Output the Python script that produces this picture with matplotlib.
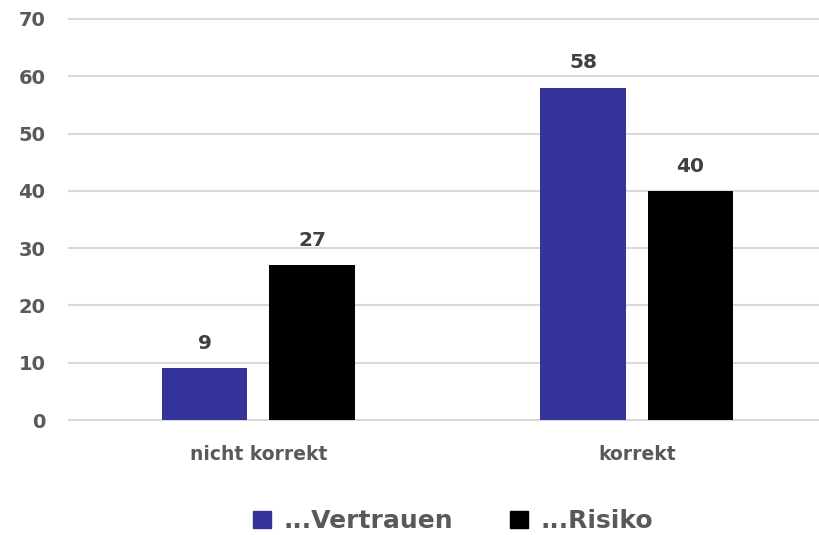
import numpy as np
import matplotlib
matplotlib.use('Agg')
from matplotlib import pyplot as plt
from matplotlib.patches import Patch

categories = ['nicht korrekt', 'korrekt']
vertrauen = [9, 58]
risiko = [27, 40]
series_names = ['...Vertrauen', '...Risiko']
yticks = [0, 10, 20, 30, 40, 50, 60, 70]

BLUE = '#333399'
BLACK = '#000000'
TXT = '#595959'

plt.rcParams['font.family'] = ['DejaVu Sans']
plt.rcParams['font.weight'] = 'bold'

fig = plt.figure(figsize=(8.19, 5.35), dpi=100)
ax = fig.add_axes([69/819, 115/535, 757/819, 401/535])

x = np.arange(len(categories))
w = 0.225
off = 0.142
b1 = ax.bar(x - off, vertrauen, w, color=BLUE, zorder=3)
b2 = ax.bar(x + off, risiko, w, color=BLACK, zorder=3)

# Werte über den Balken
for bars in (b1, b2):
    for r in bars:
        ax.annotate(f'{r.get_height():g}', (r.get_x() + r.get_width()/2, r.get_height()),
                    xytext=(0, 11), textcoords='offset points', ha='center', va='bottom',
                    fontsize=14.5, fontweight='bold', color='#404040')

ax.set_xlim(-0.5, 1.5)
ax.set_ylim(0, 70)
ax.set_yticks(yticks)
ax.set_xticks(x)
ax.set_xticklabels(categories)
ax.tick_params(axis='y', length=0, pad=17, labelsize=14, labelcolor=TXT)
ax.tick_params(axis='x', length=0, pad=18, labelsize=13.5, labelcolor=TXT)
for lab in ax.get_xticklabels() + ax.get_yticklabels():
    lab.set_fontweight('bold')
ax.grid(axis='y', color='#d9d9d9', linewidth=1.5, zorder=0)
for gl in ax.get_ygridlines():
    gl.set_clip_on(False)
ax.set_axisbelow(True)
for s in ax.spines.values():
    s.set_visible(False)

handles = [Patch(color=BLUE), Patch(color=BLACK)]
fig.legend(handles, series_names, loc='center', bbox_to_anchor=(0.553, 0.026),
           ncol=2, frameon=False, handlelength=0.7, handleheight=0.7,
           handletextpad=0.5, columnspacing=2.3,
           prop={'size': 18, 'weight': 'bold'}, labelcolor=TXT)

plt.savefig('out.png', dpi=100)
